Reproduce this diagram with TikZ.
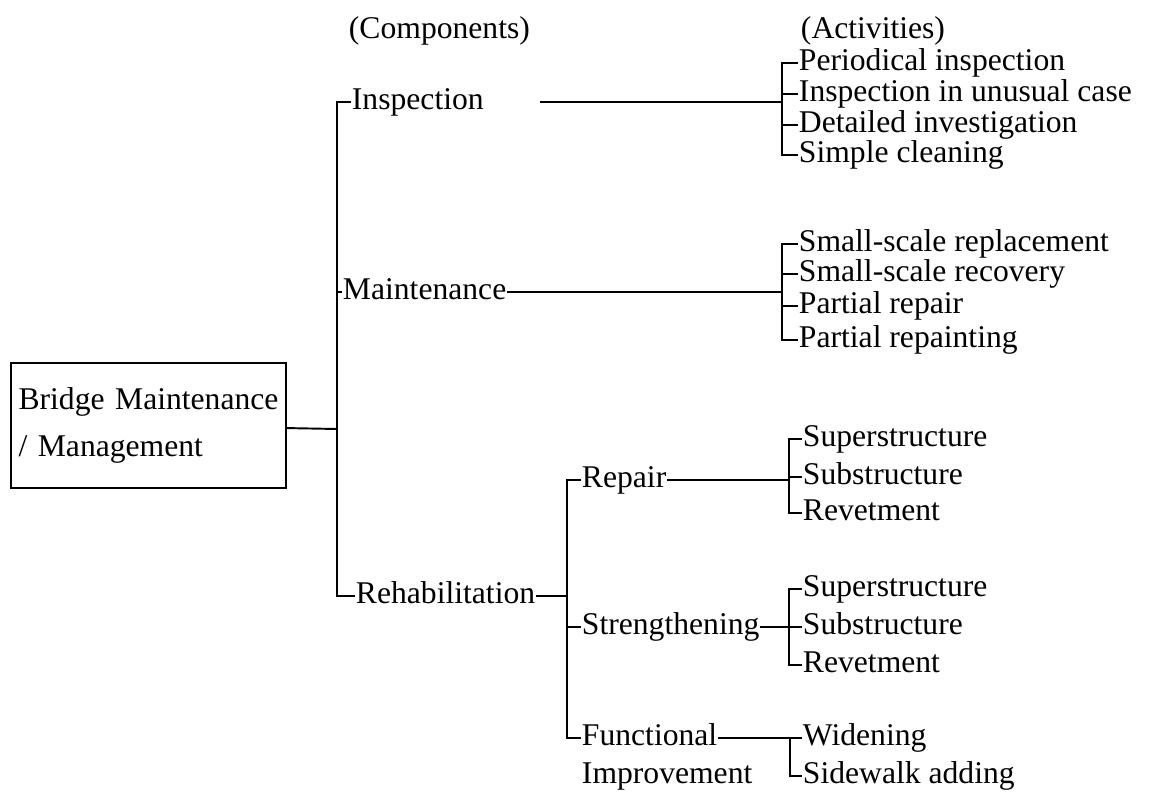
\documentclass[tikz,border=0pt]{standalone}
\usepackage{fontspec}
\setmainfont{Liberation Serif}
\usetikzlibrary{positioning}
\tikzset{item/.style={anchor=west,inner sep=0pt,font=\fontsize{18}{21}\selectfont,text height=12pt,text depth=4pt},
  rootbox/.style={draw,rectangle,align=left,text width=5.2cm,minimum width=5.5cm,minimum height=2.5cm,inner sep=0.14cm,font=\fontsize{18}{27}\selectfont}}

\begin{document}
\begin{tikzpicture}[x=0.02cm,y=-0.02cm,line width=1.1pt]
        \useasboundingbox (0,0) rectangle (1154,802);
        \node[rootbox] (root) at (148.5,425.5) {Bridge Maintenance\\/ Management};

        \node[item] (comp) at (348,31) {(Components)};
        \node[item] (act) at (800,31) {(Activities)};

        % components
        \node[item] (a) at (351,102) {Inspection};
        \node[item] (b) at (342,292) {Maintenance};
        \node[item] (c) at (355,596) {Rehabilitation};
        \node[item] (d) at (581,480) {Repair};
        \node[item] (e) at (581,627) {Strengthening};
        \node[item] (f) at (581,738) {Functional};
        \node[item] (g) at (581,776) {Improvement};

        % activities
        \node[item] (a1) at (798,63) {Periodical inspection};
        \node[item] (a2) at (798,94) {Inspection in unusual case};
        \node[item] (a3) at (798,125) {Detailed investigation};
        \node[item] (a4) at (798,155) {Simple cleaning};
        \node[item] (b1) at (798,244) {Small-scale replacement};
        \node[item] (b2) at (798,274) {Small-scale recovery};
        \node[item] (b3) at (798,306) {Partial repair};
        \node[item] (b4) at (798,340) {Partial repainting};
        \node[item] (d1) at (802,439) {Superstructure};
        \node[item] (d2) at (802,477) {Substructure};
        \node[item] (d3) at (802,513) {Revetment};
        \node[item] (e1) at (802,589) {Superstructure};
        \node[item] (e2) at (802,627) {Substructure};
        \node[item] (e3) at (802,665) {Revetment};
        \node[item] (f1) at (802,738) {Widening};
        \node[item] (f2) at (802,776) {Sidewalk adding};

        \coordinate (m) at (337,429);
        \coordinate (r) at (567,596);
        \coordinate (s1) at (782,102);
        \coordinate (s2) at (782,292);
        \coordinate (s3) at (789,480);
        \coordinate (s4) at (789,627);
        \coordinate (s5) at (790,738);

        \draw (root) -- (m);
        \draw (a.west) -| (m) |- (c.west);
        \draw (b.west) -- (b.west -| m);

        \draw ([xshift=1.1cm]a.east) -- (s1);
        \draw (a1.west) -| (s1) |- (a4.west);
        \draw (a2.west) -- (a2.west -| s1);
        \draw (a3.west) -- (a3.west -| s1);

        \draw (b.east) -- (s2);
        \draw (b1.west) -| (s2) |- (b4.west);
        \draw (b2.west) -- (b2.west -| s2);
        \draw (b3.west) -- (b3.west -| s2);

        \draw (c.east) -- (r);
        \draw (d.west) -| (r) |- (f.west);
        \draw (e.west) -- (e.west -| r);

        \draw (d.east) -- (s3);
        \draw (d1.west) -| (s3) |- (d3.west);
        \draw (d2.west) -- (d2.west -| s3);

        \draw (e.east) -- (s4);
        \draw (e1.west) -| (s4) |- (e3.west);
        \draw (e2.west) -- (e2.west -| s4);

        \draw (f.east) -- (s5);
        \draw (f1.west) -| (s5) |- (f2.west);
    \end{tikzpicture}
\end{document}
